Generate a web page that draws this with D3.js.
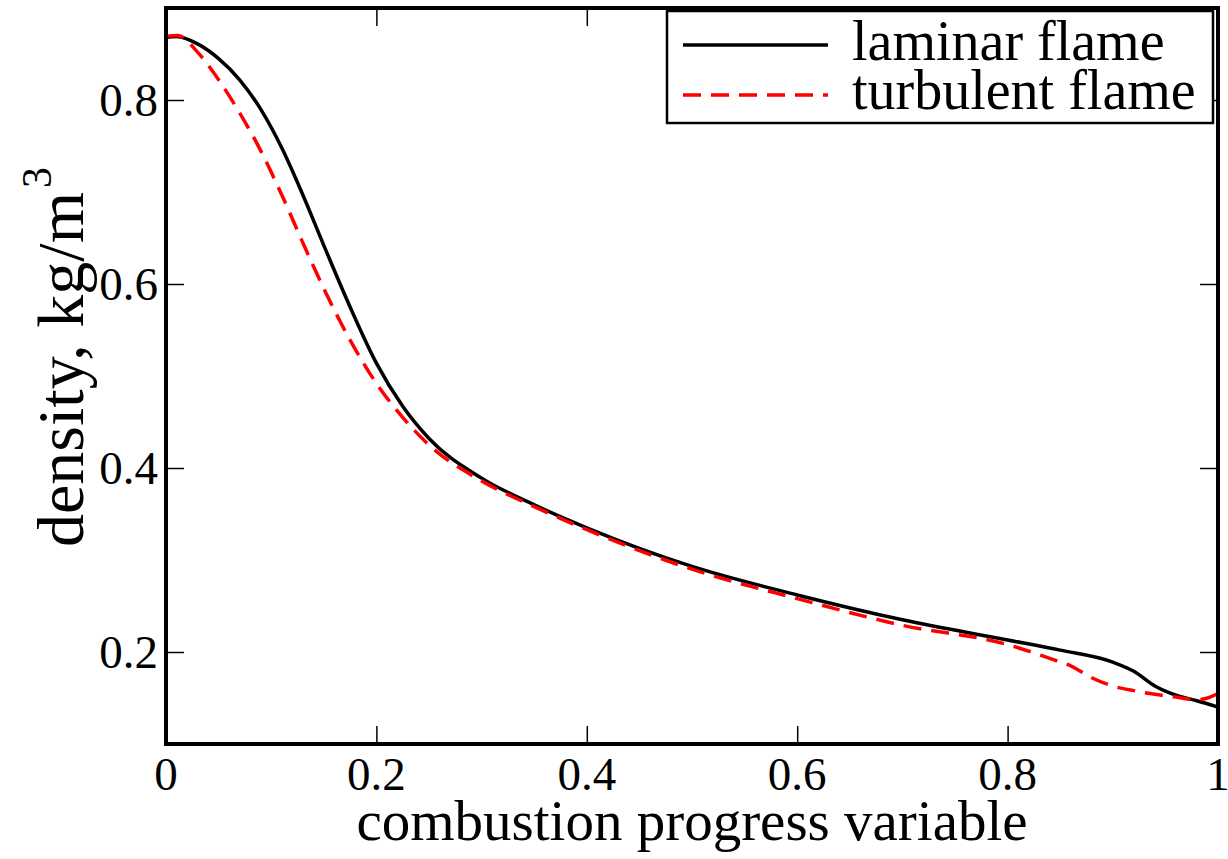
<!DOCTYPE html>
<meta charset="utf-8">
<style>
  body { margin: 0; background: #fff; }
</style>
<body>
<script src="https://cdn.jsdelivr.net/npm/d3@7"></script>
<script>
  var width = 1228, height = 859;
  var serif = "'Liberation Serif', 'DejaVu Serif', serif";

  // combustion progress variable (x) and density (kg/m^3)
  var laminarC = [0, 0.01, 0.03, 0.05, 0.07, 0.09, 0.11, 0.13, 0.15, 0.175, 0.2, 0.225, 0.25, 0.3, 0.35, 0.4, 0.5, 0.6, 0.7, 0.8, 0.85, 0.9, 0.92, 0.94, 0.96, 0.98, 1.0];
  var laminarRho = [0.868, 0.869, 0.861, 0.845, 0.822, 0.790, 0.748, 0.697, 0.642, 0.575, 0.514, 0.467, 0.432, 0.389, 0.360, 0.335, 0.293, 0.262, 0.235, 0.213, 0.202, 0.189, 0.179, 0.163, 0.153, 0.147, 0.140];

  var turbulentC = [0, 0.011, 0.03, 0.05, 0.07, 0.09, 0.11, 0.13, 0.15, 0.175, 0.2, 0.225, 0.25, 0.3, 0.35, 0.4, 0.5, 0.6, 0.7, 0.8, 0.82, 0.84, 0.86, 0.88, 0.9, 0.92, 0.94, 0.96, 0.98, 0.99, 1.0];
  var turbulentRho = [0.869, 0.870, 0.852, 0.822, 0.786, 0.745, 0.697, 0.645, 0.595, 0.539, 0.492, 0.455, 0.425, 0.386, 0.358, 0.333, 0.290, 0.258, 0.229, 0.208, 0.201, 0.193, 0.185, 0.172, 0.163, 0.158, 0.154, 0.151, 0.148, 0.150, 0.155];

  var xTicks = [0, 0.2, 0.4, 0.6, 0.8, 1];
  var yTicks = [0.2, 0.4, 0.6, 0.8];
  var legendNames = ["laminar flame", "turbulent flame"];

  var m = {left: 166, right: 10, top: 8, bottom: 115};

  var x = d3.scaleLinear().domain([0, 1]).range([m.left, width - m.right]);
  var y = d3.scaleLinear().domain([0.1, 0.9]).range([height - m.bottom, m.top]);

  var svg = d3.select("body").append("svg")
    .attr("width", width)
    .attr("height", height);

  var line = d3.line()
    .x(function(d) { return x(d[0]); })
    .y(function(d) { return y(d[1]); })
    .curve(d3.curveMonotoneX);

  var lam = laminarC.map(function(c, i) { return [c, laminarRho[i]]; });
  var tur = turbulentC.map(function(c, i) { return [c, turbulentRho[i]]; });

  svg.append("path").datum(lam)
    .attr("d", line)
    .style("fill", "none")
    .style("stroke", "#000")
    .style("stroke-width", 3.5);

  svg.append("path").datum(tur)
    .attr("d", line)
    .style("fill", "none")
    .style("stroke", "#f00")
    .style("stroke-width", 3.5)
    .style("stroke-dasharray", "18,10");

  // ticks on all four sides, pointing inward
  var tl = 18;
  function ticks(axis, sel) {
    sel.call(axis);
    sel.select(".domain").remove();
    sel.selectAll("line").style("stroke", "#000").style("stroke-width", 1.5);
  }
  ticks(d3.axisBottom(x).tickValues(xTicks).tickSize(-tl).tickFormat(""),
    svg.append("g").attr("transform", "translate(0," + y(0.1) + ")"));
  ticks(d3.axisTop(x).tickValues(xTicks).tickSize(-tl).tickFormat(""),
    svg.append("g").attr("transform", "translate(0," + y(0.9) + ")"));
  ticks(d3.axisLeft(y).tickValues(yTicks).tickSize(-tl).tickFormat(""),
    svg.append("g").attr("transform", "translate(" + x(0) + ",0)"));
  ticks(d3.axisRight(y).tickValues(yTicks).tickSize(-tl).tickFormat(""),
    svg.append("g").attr("transform", "translate(" + x(1) + ",0)"));

  // frame
  svg.append("rect")
    .attr("x", x(0)).attr("y", y(0.9))
    .attr("width", x(1) - x(0)).attr("height", y(0.1) - y(0.9))
    .style("fill", "none").style("stroke", "#000").style("stroke-width", 4);

  // tick labels
  svg.selectAll(".xl").data(xTicks).enter().append("text")
    .attr("class", "xl")
    .attr("x", function(d) { return x(d); })
    .attr("y", 790)
    .attr("text-anchor", "middle")
    .style("font-family", serif)
    .style("font-size", "47px")
    .text(function(d) { return d3.format("")(d); });

  svg.selectAll(".yl").data(yTicks).enter().append("text")
    .attr("class", "yl")
    .attr("x", 158)
    .attr("y", function(d) { return y(d) + 16; })
    .attr("text-anchor", "end")
    .style("font-family", serif)
    .style("font-size", "47px")
    .text(function(d) { return d3.format(".1f")(d); });

  // axis titles
  svg.append("text")
    .attr("x", (x(0) + x(1)) / 2)
    .attr("y", 840)
    .attr("text-anchor", "middle")
    .style("font-family", serif)
    .style("font-size", "57px")
    .text("combustion progress variable");

  var yt = svg.append("text")
    .attr("transform", "translate(83,357) rotate(-90)")
    .attr("text-anchor", "middle")
    .style("font-family", serif)
    .style("font-size", "66px");
  yt.append("tspan").text("density, kg/m");
  yt.append("tspan").attr("dx", 4).attr("dy", -32).style("font-size", "42px").text("3");

  // legend
  var lg = svg.append("g");
  lg.append("rect")
    .attr("x", 667).attr("y", 11)
    .attr("width", 546).attr("height", 112)
    .style("fill", "#fff").style("stroke", "#000").style("stroke-width", 2.5);
  var styles = [{c: "#000", d: null}, {c: "#f00", d: "18,10"}];
  legendNames.forEach(function(name, i) {
    lg.append("line")
      .attr("x1", 683).attr("x2", 828)
      .attr("y1", 45 + i * 50).attr("y2", 45 + i * 50)
      .style("stroke", styles[i].c)
      .style("stroke-width", 3.5)
      .style("stroke-dasharray", styles[i].d);
    lg.append("text")
      .attr("x", 852).attr("y", 60 + i * 49)
      .style("font-family", serif)
      .style("font-size", "56px")
      .text(name);
  });
</script>
</body>
